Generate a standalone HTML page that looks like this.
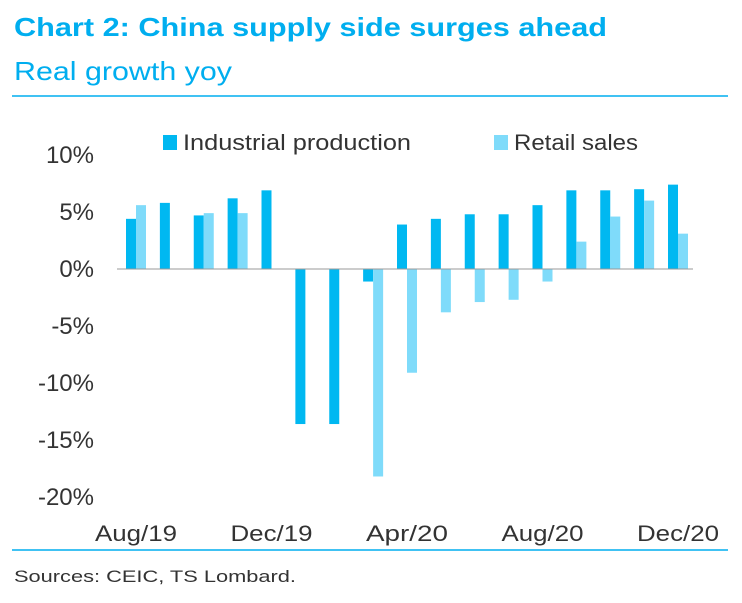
<!DOCTYPE html>
<html><head><meta charset="utf-8"><style>
body{margin:0;background:#fff;width:742px;height:598px;overflow:hidden;font-family:"Liberation Sans",sans-serif}
</style></head><body>
<svg width="742" height="598" xmlns="http://www.w3.org/2000/svg">
<text x="14" y="36" font-size="26" font-weight="bold" fill="#00aeef" textLength="593" lengthAdjust="spacingAndGlyphs">Chart 2: China supply side surges ahead</text>
<text x="14" y="80" font-size="26" fill="#00aeef" textLength="218" lengthAdjust="spacingAndGlyphs">Real growth yoy</text>
<line x1="12" y1="96" x2="728" y2="96" stroke="#00aeef" stroke-width="1.5"/>
<line x1="12" y1="550" x2="728" y2="550" stroke="#00aeef" stroke-width="1.5"/>
<text x="14" y="582" font-size="17" fill="#333" textLength="282" lengthAdjust="spacingAndGlyphs">Sources: CEIC, TS Lombard.</text>
<rect x="163" y="135" width="14" height="15" fill="#00b8f1"/>
<text x="183" y="150" font-size="22" fill="#333" textLength="228" lengthAdjust="spacingAndGlyphs">Industrial production</text>
<rect x="494" y="135" width="14" height="15" fill="#7fdbfa"/>
<text x="514" y="150" font-size="22" fill="#333" textLength="124" lengthAdjust="spacingAndGlyphs">Retail sales</text>
<g id="plot"></g>
</svg>
<script>
const categories=["Aug/19","Sep/19","Oct/19","Nov/19","Dec/19","Jan/20","Feb/20","Mar/20","Apr/20","May/20","Jun/20","Jul/20","Aug/20","Sep/20","Oct/20","Nov/20","Dec/20"];
const industrial=[4.4,5.8,4.7,6.2,6.9,-13.6,-13.6,-1.1,3.9,4.4,4.8,4.8,5.6,6.9,6.9,7.0,7.4];
const retail=[5.6,null,4.9,4.9,null,null,null,-18.2,-9.1,-3.8,-2.9,-2.7,-1.1,2.4,4.6,6.0,3.1];
const yTicks=[10,5,0,-5,-10,-15,-20];
const yTickLabels=["10%","5%","0%","-5%","-10%","-15%","-20%"];
const xLabelIdx=[0,4,8,12,16];
const NS="http://www.w3.org/2000/svg";
const g=document.getElementById('plot');
function y(v){return 269-v*11.4;}
function xc(i){return 136+i*33.875;}
function mk(t,a){const e=document.createElementNS(NS,t);for(const k in a)e.setAttribute(k,a[k]);g.appendChild(e);return e;}
yTicks.forEach((v,i)=>{const t=mk('text',{x:94,y:y(v)+8,'font-size':24,fill:'#333','text-anchor':'end'});t.textContent=yTickLabels[i];

});
xLabelIdx.forEach(i=>{const t=mk('text',{x:xc(i),y:541,'font-size':22,fill:'#333','text-anchor':'middle','textLength':82,'lengthAdjust':'spacingAndGlyphs'});t.textContent=categories[i];

});
industrial.forEach((v,i)=>{if(v==null)return;const r=mk('rect',{x:xc(i)-10,y:Math.min(y(v),y(0)),width:10,height:Math.abs(y(v)-y(0)),fill:'#00b8f1'});

});
retail.forEach((v,i)=>{if(v==null)return;const r=mk('rect',{x:xc(i),y:Math.min(y(v),y(0)),width:10,height:Math.abs(y(v)-y(0)),fill:'#7fdbfa'});

});
const ax=mk('line',{x1:117,y1:y(0),x2:693,y2:y(0),stroke:'#999','stroke-width':1});


</script>
</body></html>
